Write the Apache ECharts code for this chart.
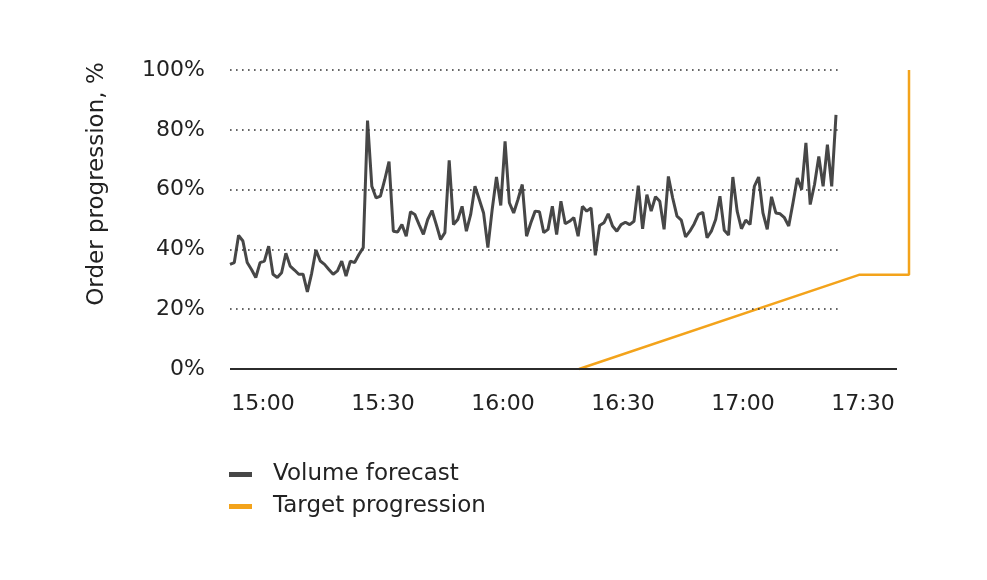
<!DOCTYPE html>
<html>
<head>
<meta charset="utf-8">
<title>Order progression</title>
<script src="https://cdn.jsdelivr.net/npm/echarts@6/dist/echarts.min.js"></script>
<style>
    html, body { margin: 0; padding: 0; background: #fff; }
    #chart { width: 987px; height: 580px; }
</style>
</head>
<body>
<div id="chart"></div>
<script>
var xTickLabels = ['15:00', '15:30', '16:00', '16:30', '17:00', '17:30'];
var yTicks = [0, 20, 40, 60, 80, 100];
var axisStart = '14:51:45';
var axisLineEnd = '17:38:30';
var axisEnd = '17:43';

// volume forecast, one reading about every minute
var volumeStart = '14:51:45';
var volumeEnd = '17:23:15';
var volumeValues = [
    35, 35.6, 44.7, 42.8, 35.6, 33.3, 30.6, 35.6, 36.1, 41.1, 31.7, 30.6, 32.2, 38.7, 34.4, 33.1, 31.7, 31.7, 25.8, 32,
    39.8, 36.1, 35, 33.3, 31.7, 32.8, 36.1, 31.1, 36.1, 35.6, 38.3, 40.6, 83.1, 61.1, 57.2, 57.8, 63.3, 69.4,
    46.1, 45.8, 48.3, 44.4, 52.6, 51.7, 48.3, 45, 50, 53, 48.3, 43.3, 45.6, 69.8, 48.3, 50, 54.4, 46.1, 51.7, 61.1,
    56.7, 52.2, 40.6, 53.3, 64.2, 54.7, 76.1, 55.6, 52.2, 56.7, 61.7, 44.4, 48.9, 52.8, 52.6, 45.6, 46.7,
    54.4, 45, 56.1, 48.6, 49.4, 50.6, 44.4, 54.4, 52.8, 53.9, 38, 48, 48.9, 51.9, 47.8, 46.1, 48.3, 49.1, 48.3, 49.4,
    61.3, 46.9, 58.3, 52.8, 57.6, 56.1, 46.7, 64.4, 57.2, 51.1, 49.8, 44.2, 46.1,
    48.5, 51.7, 52.4, 43.9, 46.1, 50, 57.8, 46.4, 44.8, 64.2, 52.8, 46.9, 49.8, 48.3, 61.1, 64.2, 52.2, 46.7, 57.6, 52.2,
    51.9, 50.6, 47.8, 55.6, 63.9, 60, 75.6, 55, 61.7, 71.1, 61.1, 75, 61.1, 85
];

var targetTimes = ['16:19', '17:29', '17:41:30', '17:41:30'];
var targetValues = [0, 31.5, 31.5, 100];

(function (echarts) {
    "use strict";
    var FONT = 'DejaVu Sans';
    var TEXT = '#222';

    // minutes after 15:00
    function toMin(t) {
        var p = t.split(':');
        return (+p[0] - 15) * 60 + (+p[1]) + (p[2] ? +p[2] / 60 : 0);
    }
    function fmt(m) {
        var total = Math.round(m) + 15 * 60;
        var h = Math.floor(total / 60), mm = total % 60;
        return h + ':' + (mm < 10 ? '0' : '') + mm;
    }

    var vStart = toMin(volumeStart);
    var vStep = (toMin(volumeEnd) - vStart) / (volumeValues.length - 1);
    var volumeData = volumeValues.map(function (v, i) {
        return [vStart + i * vStep, v];
    });
    var targetData = targetTimes.map(function (t, i) {
        return [toMin(t), targetValues[i]];
    });

    // dotted guides only span the forecast window
    var guides = yTicks.filter(function (v) { return v > 0; }).map(function (v) {
        return [{coord: [vStart, v]}, {coord: [toMin(volumeEnd) + 0.5, v]}];
    });
    // the baseline stops short of the target's last step
    var baseline = [[{coord: [toMin(axisStart), 0]}, {coord: [toMin(axisLineEnd), 0]}]];

    var chart = echarts.init(document.getElementById('chart'));
    chart.setOption({
        animation: false,
        textStyle: {fontFamily: FONT},
        grid: {left: 230, right: 72, top: 70, bottom: 211, containLabel: false},
        xAxis: {
            type: 'value',
            min: toMin(axisStart),
            max: toMin(axisEnd),
            axisLine: {show: false},
            axisTick: {show: false},
            splitLine: {show: false},
            axisLabel: {
                customValues: xTickLabels.map(toMin),
                formatter: fmt,
                color: TEXT,
                fontSize: 22,
                fontFamily: FONT,
                margin: 24
            }
        },
        yAxis: {
            type: 'value',
            min: 0,
            max: 100,
            interval: 20,
            axisLine: {show: false},
            axisTick: {show: false},
            splitLine: {show: false},
            axisLabel: {
                formatter: '{value}%',
                color: TEXT,
                fontSize: 22,
                fontFamily: FONT,
                margin: 25
            }
        },
        legend: {
            orient: 'vertical',
            left: 229,
            top: 463,
            padding: 0,
            icon: 'rect',
            itemWidth: 23,
            itemHeight: 5,
            itemGap: 9,
            selectedMode: false,
            textStyle: {color: TEXT, fontSize: 23, fontFamily: FONT, padding: [0, 0, 0, 16]},
            data: ['Volume forecast', 'Target progression']
        },
        graphic: [{
            type: 'text',
            x: 97,
            y: 184,
            rotation: Math.PI / 2,
            style: {
                text: 'Order progression, %',
                fill: TEXT,
                font: '23px "' + FONT + '"',
                align: 'center',
                verticalAlign: 'middle'
            }
        }],
        series: [{
            name: 'Volume forecast',
            type: 'line',
            data: volumeData,
            symbol: 'none',
            itemStyle: {color: '#474747'},
            lineStyle: {color: '#474747', width: 3},
            markLine: {
                silent: true,
                symbol: 'none',
                label: {show: false},
                lineStyle: {color: '#333', width: 1.6, type: [1.6, 4.4]},
                data: guides
            },
            z: 3
        }, {
            name: 'Target progression',
            type: 'line',
            data: targetData,
            symbol: 'none',
            clip: false,
            itemStyle: {color: '#F3A31B'},
            lineStyle: {color: '#F3A31B', width: 2.5},
            markLine: {
                silent: true,
                symbol: 'none',
                label: {show: false},
                lineStyle: {color: '#2b2b2b', width: 2, type: 'solid'},
                data: baseline
            },
            z: 2
        }]
    });
}(echarts));
</script>
</body>
</html>
